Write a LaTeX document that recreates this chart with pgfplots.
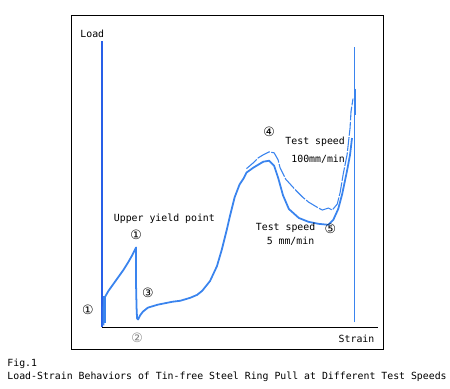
\documentclass[border=0pt]{standalone}
\usepackage{pgfplots}
\pgfplotsset{compat=1.18}
\usepackage{fontspec}
\setmainfont{DejaVu Sans Mono}
\newfontfamily\sym{DejaVu Sans}
\definecolor{curve}{RGB}{58,132,238}
\definecolor{yaxis}{RGB}{40,95,232}
\definecolor{grayc}{RGB}{130,130,130}
\begin{document}
\begin{tikzpicture}
\begin{axis}[
  scale only axis, width=450pt, height=394pt,
  xmin=0, xmax=450, ymin=0, ymax=394, y dir=reverse,
  hide axis, clip=false,
  every node/.style={font=\fontsize{10}{12}\selectfont, inner sep=0pt},
]
\path (axis cs:0,0) rectangle (axis cs:450,394);
% frame
\addplot[black, line width=0.9pt] coordinates {(72,16) (389,16) (389,354) (72,354) (72,16)};
% x axis
\addplot[black, line width=0.9pt] coordinates {(103,332) (383,332)};
% y axis (blue)
\addplot[yaxis, line width=2pt] coordinates {(103.5,42) (103.5,332)};
% 5 mm/min curve
\addplot[curve, line width=1.8pt, line join=round] coordinates {
(105,330) (105,312) (106,302) (110,295) (115,288) (120,281) (125,274)
(130,266) (134,259) (137,253) (138,251) (138,290) (138.5,312) (139,323)
(140,324) (142,320) (145,316) (150,312) (160,309) (170,307) (175,306)
(183,305) (193,302) (200,299) (205,295) (213,285) (220,270) (225,253)
(230,233) (233,220) (238,200) (243,187) (247,181) (250,175) (257,170)
(262,167) (267,164) (273,163) (278,168) (282,180) (287,198) (293,212)
(303,221) (313,225) (323,227) (333,228) (338,223) (343,212) (347,197)
(352,173) (355,157) (357,140)};
\addplot[curve, line width=2.2pt] coordinates {(106,300) (106,328)};
% 100 mm/min curve
\addplot[curve, line width=1.1pt, dash pattern=on 14pt off 1.5pt] coordinates {
(250,171) (257,165) (262,160) (267,157) (273,154) (278,155) (282,162)
(284,170) (290,182) (300,193) (307,200) (313,205) (323,211) (327,213)
(333,211) (337,213) (342,207) (345,195) (348,177) (352,157) (355,130)
(356,113) (358,100)};
% final spike
\addplot[curve, line width=1pt] coordinates {(360,327) (360,48)};
\addplot[curve, line width=2.5pt] coordinates {(360,90) (360,117)};
% labels
\node[anchor=west] at (axis cs:78,34) {Load};
\node[anchor=west] at (axis cs:340,344) {Strain};
\node[anchor=west] at (axis cs:112,222) {Upper yield point};
\node[anchor=west] at (axis cs:286,144) {Test speed};
\node[anchor=west] at (axis cs:292,161) {100mm/min};
\node[anchor=west] at (axis cs:256,231) {Test speed};
\node[anchor=west] at (axis cs:267,245) {5 mm/min};
\node[font=\sym\fontsize{13}{13}\selectfont] at (axis cs:89,314) {①};
\node[font=\sym\fontsize{13}{13}\selectfont] at (axis cs:138,238) {①};
\node[font=\sym\fontsize{13}{13}\selectfont, text=grayc] at (axis cs:139,343) {②};
\node[font=\sym\fontsize{13}{13}\selectfont] at (axis cs:150,297) {③};
\node[font=\sym\fontsize{13}{13}\selectfont] at (axis cs:273,134) {④};
\node[font=\sym\fontsize{13}{13}\selectfont] at (axis cs:335,232) {⑤};
% caption
\node[anchor=west] at (axis cs:4,369) {Fig.1};
\node[anchor=west] at (axis cs:4,382) {Load-Strain Behaviors of Tin-free Steel Ring Pull at Different Test Speeds};
\end{axis}
\end{tikzpicture}
\end{document}
